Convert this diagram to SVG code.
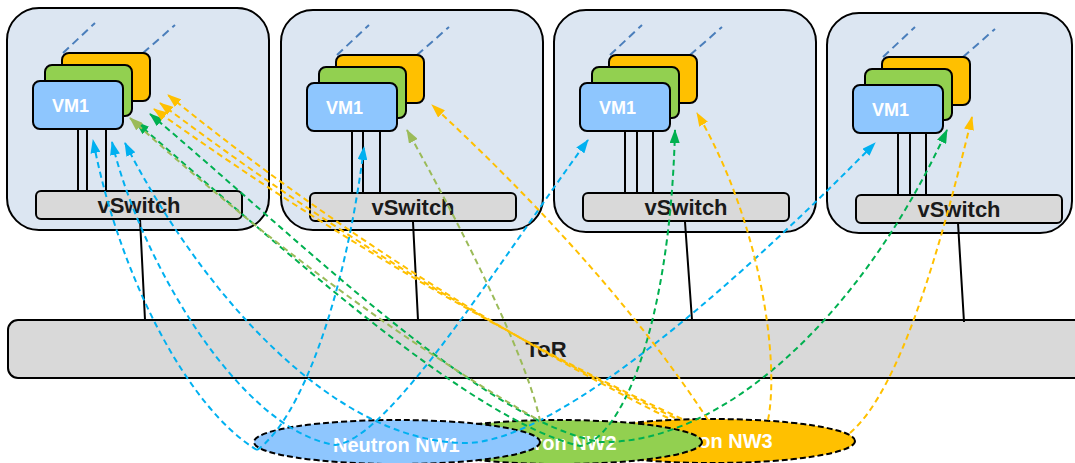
<svg xmlns="http://www.w3.org/2000/svg" width="1075" height="463" viewBox="0 0 1075 463">
<style>
.host{fill:#dce6f2;stroke:#000;stroke-width:2}
.vmO{fill:#ffc000;stroke:#000;stroke-width:2}
.vmG{fill:#92d050;stroke:#000;stroke-width:2}
.vmB{fill:#8ec6fe;stroke:#000;stroke-width:2}
.sw{fill:#d9d9d9;stroke:#000;stroke-width:2}
.wire{stroke:#000;stroke-width:2;fill:none}
.vl{stroke:#4a7ebb;stroke-width:2;stroke-dasharray:8,5;fill:none}
.t{font-family:"Liberation Sans",Arial,sans-serif;font-weight:bold}
.vm{fill:#fff;font-size:18px}
.swt{fill:#1a1a1a;font-size:22px;text-anchor:middle}
.nw{fill:#fff;font-size:20px}
.ell{stroke:#000;stroke-width:2;stroke-dasharray:6,3}
.c{fill:none;stroke-width:2;stroke-dasharray:6,4}
.cb{stroke:#00b0f0}
.cg{stroke:#00b050}
.co{stroke:#9bbb59}
.cy{stroke:#ffc000}
</style>
<defs>
<marker id="mb" viewBox="0 0 14 10" refX="13" refY="5" markerWidth="14" markerHeight="10" markerUnits="userSpaceOnUse" orient="auto-start-reverse"><path d="M0,0 L14,5 L0,10 z" fill="#00b0f0"/></marker>
<marker id="mg" viewBox="0 0 14 10" refX="13" refY="5" markerWidth="14" markerHeight="10" markerUnits="userSpaceOnUse" orient="auto-start-reverse"><path d="M0,0 L14,5 L0,10 z" fill="#00b050"/></marker>
<marker id="mo" viewBox="0 0 14 10" refX="13" refY="5" markerWidth="14" markerHeight="10" markerUnits="userSpaceOnUse" orient="auto-start-reverse"><path d="M0,0 L14,5 L0,10 z" fill="#9bbb59"/></marker>
<marker id="my" viewBox="0 0 14 10" refX="13" refY="5" markerWidth="14" markerHeight="10" markerUnits="userSpaceOnUse" orient="auto-start-reverse"><path d="M0,0 L14,5 L0,10 z" fill="#ffc000"/></marker>
</defs>

<g id="host1">
<rect class="host" x="7" y="8" width="262" height="222" rx="32"/>
<line class="vl" x1="63" y1="53" x2="95" y2="23"/><line class="vl" x1="143" y1="53" x2="175" y2="25"/>
<rect class="vmO" x="62" y="53" width="88" height="48" rx="7"/>
<rect class="vmG" x="45" y="65" width="87" height="51" rx="7"/>
<rect class="vmB" x="33" y="81" width="90" height="48" rx="7"/>
<text class="t vm" x="52" y="112">VM1</text>
<path class="wire" d="M78,129V191M87,129V191M106,129V191"/>
<rect class="sw" x="36" y="191" width="206" height="28" rx="5"/>
<text class="t swt" x="139" y="213">vSwitch</text>
</g>
<g id="host2" transform="translate(274,2)">
<rect class="host" x="7" y="8" width="262" height="220" rx="32"/>
<line class="vl" x1="63" y1="53" x2="95" y2="23"/><line class="vl" x1="143" y1="53" x2="175" y2="25"/>
<rect class="vmO" x="62" y="53" width="88" height="48" rx="7"/>
<rect class="vmG" x="45" y="65" width="87" height="51" rx="7"/>
<rect class="vmB" x="33" y="81" width="90" height="48" rx="7"/>
<text class="t vm" x="52" y="112">VM1</text>
<path class="wire" d="M78,129V191M89,129V191M106,129V191"/>
<rect class="sw" x="36" y="191" width="206" height="28" rx="5"/>
<text class="t swt" x="139" y="213">vSwitch</text>
</g>
<g id="host3" transform="translate(547,2)">
<rect class="host" x="7" y="8" width="262" height="222" rx="32"/>
<line class="vl" x1="63" y1="53" x2="95" y2="23"/><line class="vl" x1="143" y1="53" x2="175" y2="25"/>
<rect class="vmO" x="62" y="53" width="88" height="48" rx="7"/>
<rect class="vmG" x="45" y="65" width="87" height="51" rx="7"/>
<rect class="vmB" x="33" y="81" width="90" height="48" rx="7"/>
<text class="t vm" x="52" y="112">VM1</text>
<path class="wire" d="M78,129V191M90,129V191M106,129V191"/>
<rect class="sw" x="36" y="191" width="206" height="28" rx="5"/>
<text class="t swt" x="139" y="213">vSwitch</text>
</g>
<g id="host4" transform="translate(820,4)">
<rect class="host" x="7" y="9" width="245" height="220" rx="32"/>
<line class="vl" x1="63" y1="53" x2="95" y2="23"/><line class="vl" x1="143" y1="53" x2="175" y2="25"/>
<rect class="vmO" x="62" y="53" width="88" height="48" rx="7"/>
<rect class="vmG" x="45" y="65" width="87" height="51" rx="7"/>
<rect class="vmB" x="33" y="81" width="90" height="48" rx="7"/>
<text class="t vm" x="52" y="112">VM1</text>
<path class="wire" d="M78,129V191M90,129V191M106,129V191"/>
<rect class="sw" x="36" y="191" width="206" height="28" rx="5"/>
<text class="t swt" x="139" y="213">vSwitch</text>
</g>

<g id="tor">
<rect class="sw" x="8" y="320" width="1080" height="58" rx="10"/>
<text class="t swt" x="546" y="357">ToR</text>
</g>

<g id="nw3">
<ellipse class="ell" cx="712" cy="441" rx="143" ry="22" fill="#ffc000"/>
<text class="t nw" x="646" y="448">Neutron NW3</text>
</g>
<g id="nw2">
<ellipse class="ell" cx="559" cy="442" rx="143" ry="22" fill="#92d050"/>
<text class="t nw" x="490" y="450">Neutron NW2</text>
</g>
<g id="nw1">
<ellipse class="ell" cx="397" cy="442" rx="143" ry="22" fill="#8ec6fe"/>
<text class="t nw" x="333" y="452">Neutron NW1</text>
</g>

<g id="connectors">
<path class="wire" d="M140,219L145,320M413,222L418,320M685,222L692,320M958,223L964,322"/>
<!-- blue -->
<path class="c cb" marker-end="url(#mb)" d="M257,450 C190,410 120,280 93,140"/>
<path class="c cb" marker-end="url(#mb)" d="M257,450 C300,420 345,300 364,147"/>
<path class="c cb" marker-start="url(#mb)" marker-end="url(#mb)" d="M112,142 C140,260 240,430 335,445 C390,440 500,260 588,140"/>
<path class="c cb" marker-start="url(#mb)" marker-end="url(#mb)" d="M125,143 C200,290 330,440 463,443 C560,446 760,260 875,143"/>
<!-- green -->
<path class="c cg" marker-start="url(#mg)" marker-end="url(#mg)" d="M150,114 C300,240 480,420 600,442 C720,445 860,320 947,130"/>
<path class="c cg" marker-start="url(#mg)" marker-end="url(#mg)" d="M136,122 C290,255 470,420 580,446 C620,440 670,330 675,130"/>
<path class="c co" marker-start="url(#mo)" marker-end="url(#mo)" d="M130,118 Q330,300 540,421 C530,370 480,260 407,130"/>
<!-- orange -->
<path class="c cy" marker-end="url(#my)" d="M668,418 Q400,283 168,95"/>
<path class="c cy" marker-end="url(#my)" d="M675,418 Q405,288 160,103"/>
<path class="c cy" marker-end="url(#my)" d="M682,419 Q410,292 154,109"/>
<path class="c cy" marker-end="url(#my)" d="M708,420 Q610,270 432,105"/>
<path class="c cy" marker-end="url(#my)" d="M768,420 C780,360 760,220 697,113"/>
<path class="c cy" marker-end="url(#my)" d="M850,433 C900,390 940,250 972,117"/>
</g>
</svg>
